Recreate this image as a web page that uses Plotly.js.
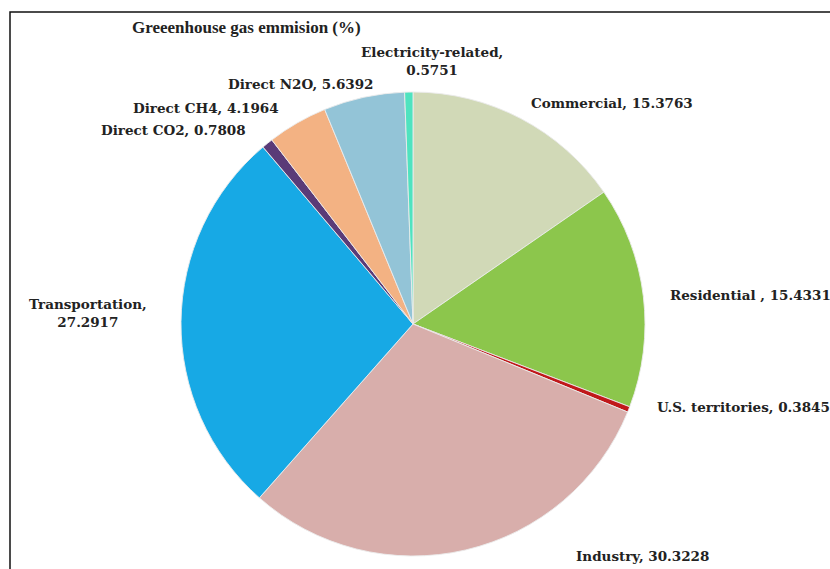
<!DOCTYPE html>
<html>
<head>
<meta charset="utf-8">
<script src="https://cdn.plot.ly/plotly-3.0.1.min.js"></script>
<style>html,body{margin:0;padding:0;background:#fff;}#chart{width:830px;height:569px;}</style>
</head>
<body>
<div id="chart"></div>
<script>
// Data
const categories = ["Commercial", "Residential ", "U.S. territories", "Industry", "Transportation",
  "Direct CO2", "Direct CH4", "Direct N2O", "Electricity-related"];
const values = [15.3763, 15.4331, 0.3845, 30.3228, 27.2917, 0.7808, 4.1964, 5.6392, 0.5751];
const valueLabels = ["15.3763", "15.4331", "0.3845", "30.3228", "27.2917", "0.7808", "4.1964", "5.6392", "0.5751"];
const titleText = "Greeenhouse gas emmision (%)";

// Styles / positions (layout only)
const colors = ["#d1d9b7", "#8cc64c", "#c0181a", "#d8aeab", "#17a9e5", "#5a3b78", "#f3b283", "#93c4d7", "#4fe3bf"];
const labelPos = [
  {x: 612, y: 103, anchor: "center", br: false},
  {x: 668, y: 295, anchor: "left", br: false},
  {x: 743, y: 407, anchor: "center", br: false},
  {x: 642, y: 556, anchor: "center", br: false},
  {x: 88, y: 313, anchor: "center", br: true},
  {x: 173, y: 130, anchor: "center", br: false},
  {x: 206, y: 108, anchor: "center", br: false},
  {x: 300, y: 84, anchor: "center", br: false},
  {x: 432, y: 61, anchor: "center", br: true}
];

const W = 830, H = 569;
const cx = 413, cy = 324, r = 232;
const font = {family: "DejaVu Serif, Liberation Serif, serif", size: 13.5, color: "#222"};

const annotations = categories.map((c, i) => {
  const p = labelPos[i];
  return {
    xref: "paper", yref: "paper",
    x: p.x / W, y: 1 - p.y / H,
    xanchor: p.anchor, yanchor: "middle",
    text: "<b>" + c + "," + (p.br ? "<br>" : " ") + valueLabels[i] + "</b>",
    showarrow: false, align: "center", font: font
  };
});
annotations.push({
  xref: "paper", yref: "paper", x: 246 / W, y: 1 - 28 / H, xanchor: "center", yanchor: "middle",
  text: "<b>" + titleText + "</b>", showarrow: false,
  font: {family: "Liberation Serif, DejaVu Serif, serif", size: 17, color: "#222"}
});

const trace = {
  type: "pie",
  labels: categories,
  values: values,
  sort: false,
  direction: "clockwise",
  rotation: 0,
  textinfo: "none",
  hoverinfo: "label+value",
  marker: {colors: colors, line: {color: "rgba(235,235,235,0.9)", width: 1}},
  domain: {x: [(cx - r) / W, (cx + r) / W], y: [1 - (cy + r) / H, 1 - (cy - r) / H]},
  showlegend: false
};

const layout = {
  width: W, height: H,
  margin: {l: 0, r: 0, t: 0, b: 0},
  paper_bgcolor: "#ffffff",
  showlegend: false,
  annotations: annotations,
  shapes: [{
    type: "rect", xref: "paper", yref: "paper",
    x0: 10 / W, x1: 1.02, y0: -0.02, y1: 1 - 12 / H,
    line: {color: "#111", width: 1.5}, fillcolor: "rgba(0,0,0,0)", layer: "below"
  }]
};

Plotly.newPlot("chart", [trace], layout, {staticPlot: true});
</script>
</body>
</html>
